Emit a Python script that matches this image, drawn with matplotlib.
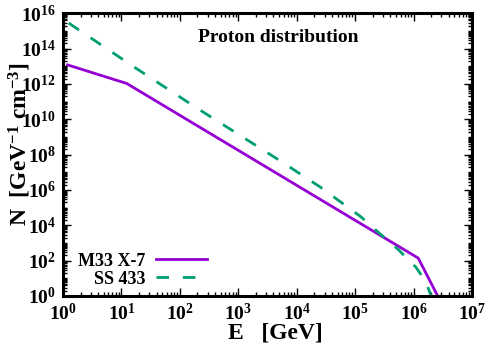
import numpy as np
import matplotlib
matplotlib.use("Agg")
import matplotlib.pyplot as plt
from matplotlib.ticker import FixedLocator, LogLocator, NullFormatter

plt.rcParams['font.family'] = ['Liberation Serif', 'DejaVu Serif']
plt.rcParams['font.weight'] = 'bold'
plt.rcParams['mathtext.fontset'] = 'custom'
plt.rcParams['mathtext.rm'] = 'Liberation Serif:bold'
plt.rcParams['mathtext.bf'] = 'Liberation Serif:bold'
plt.rcParams['mathtext.it'] = 'Liberation Serif:bold'
plt.rcParams['mathtext.default'] = 'rm'

# Data (E in GeV, N in GeV^-1 cm^-3)
m33_E = [1.2, 12.3, 1.2e6, 2.8e6]
m33_N = [1.2e13, 1.07e12, 1.4e2, 0.6]

ss_E = [1.25, 15.8, 190, 5.2e3, 2.5e4, 1.23e5, 2.5e5, 5.5e5, 1.1e6, 1.6e6, 2.0e6, 2.3e6]
ss_N = [2.8e15, 1.0e13, 4.6e10, 4.5e7, 1.5e6, 3.2e4, 4.0e3, 4.2e2, 4.2e1, 7.0, 1.0, 0.3]

labels = ['M33 X-7', 'SS 433']
colors = ['#9400d3', '#009e73']

W, H = 498, 348
fig = plt.figure(figsize=(W/100, H/100), dpi=100)
ax = fig.add_axes([63/W, 1-296/H, (472-63)/W, (296-13.3)/H])

l1, = ax.plot(m33_E, m33_N, color=colors[0], lw=2.0, label=labels[0])
l2, = ax.plot(ss_E, ss_N, color=colors[1], lw=2.0, dashes=(4.5, 5.0), label=labels[1])

ax.set_xscale('log')
ax.set_yscale('log')
ax.set_xlim(1, 1e7)
ax.set_ylim(1, 1e16)

ax.xaxis.set_major_locator(FixedLocator([10.0**k for k in range(0, 8)]))
ax.yaxis.set_major_locator(FixedLocator([10.0**k for k in range(0, 17, 2)]))
ax.set_xticklabels([r'$10^{%d}$' % k for k in range(0, 8)])
ax.set_yticklabels([r'$10^{%d}$' % k for k in range(0, 17, 2)])
ax.xaxis.set_minor_locator(LogLocator(base=10, subs=np.arange(2, 10), numticks=30))
yminor = []
for d in range(0, 16):
    for s in range(1, 10):
        if s == 1 and d % 2 == 0:
            continue
        yminor.append(s * 10.0**d)
ax.yaxis.set_minor_locator(FixedLocator(yminor))
ax.xaxis.set_minor_formatter(NullFormatter())
ax.yaxis.set_minor_formatter(NullFormatter())

ax.tick_params(which='both', direction='in', top=True, right=True, width=1.0)
ax.tick_params(which='major', length=6, labelsize=14, pad=5)
ax.tick_params(which='minor', length=3)
for s in ax.spines.values():
    s.set_linewidth(2.2)

fig.text(275/W, 1-333/H, 'E   [GeV]', fontsize=17, fontweight='bold',
         ha='center', va='center')
fig.text(20/W, 1-144/H, r'N  [GeV$^{-1}$ cm$^{-3}$]', fontsize=17,
         fontweight='bold', ha='center', va='center', rotation=90)

ax.text(0.526, 0.916, 'Proton distribution', transform=ax.transAxes,
        ha='center', va='center', fontsize=14, fontweight='bold')

common = dict(frameon=False, fontsize=13, markerfirst=False, handlelength=2.8,
              handletextpad=0.63, borderpad=0.0, borderaxespad=0.0)
leg1 = ax.legend(handles=[l1], loc='center right',
                 bbox_to_anchor=((207-63)/409, (296-261)/282.7), **common)
ax.add_artist(leg1)
leg2 = ax.legend(handles=[l2], loc='center right',
                 bbox_to_anchor=((207-63)/409, (296-279)/282.7), **common)

fig.savefig('out.png', dpi=100)
